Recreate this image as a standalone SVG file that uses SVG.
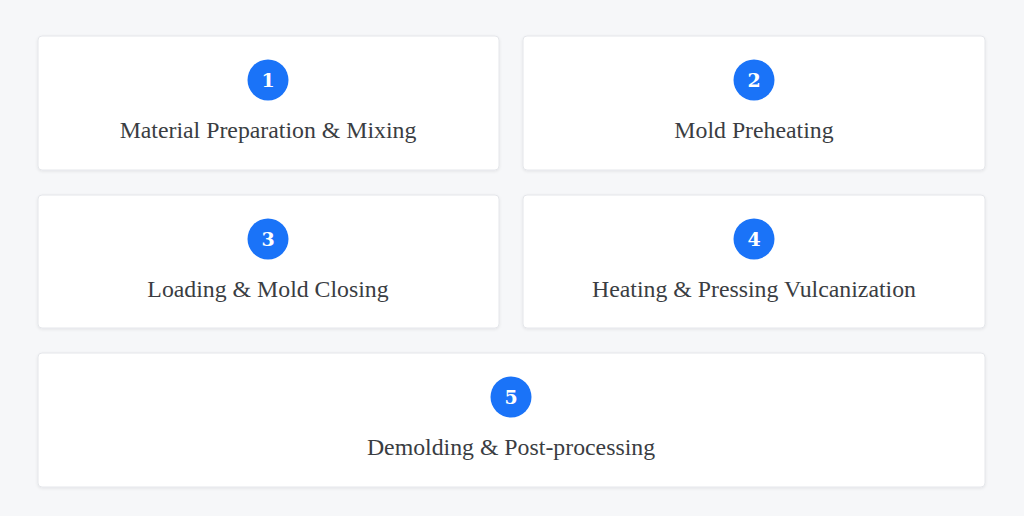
<svg xmlns="http://www.w3.org/2000/svg" width="1024" height="516" viewBox="0 0 1024 516">
<style>
.card{fill:#ffffff;stroke:#e4e6ea;stroke-width:1}
.badge{fill:#1a73f8}
.num{font-family:"DejaVu Serif","Liberation Serif",serif;font-size:19px;font-weight:bold;fill:#ffffff;text-anchor:middle}
.lbl{font-family:"Liberation Serif","DejaVu Serif",serif;font-size:23.8px;fill:#3a3d42;text-anchor:middle}
</style>
<defs>
<filter id="sh" x="-5%" y="-10%" width="110%" height="125%">
<feDropShadow dx="0" dy="1" stdDeviation="1.5" flood-color="#000" flood-opacity="0.08"/>
</filter>
</defs>
<rect width="1024" height="516" fill="#f6f7f9"/>
<g id="connectors"></g>
<g id="node1">
<rect class="card" x="38" y="36" width="461" height="134" rx="4" filter="url(#sh)"/>
<circle class="badge" cx="268" cy="80" r="20.5"/>
<text class="num" x="268" y="87">1</text>
<text class="lbl" x="268" y="138">Material Preparation &amp; Mixing</text>
</g>
<g id="node2">
<rect class="card" x="523" y="36" width="462" height="134" rx="4" filter="url(#sh)"/>
<circle class="badge" cx="754" cy="80" r="20.5"/>
<text class="num" x="754" y="87">2</text>
<text class="lbl" x="754" y="138">Mold Preheating</text>
</g>
<g id="node3">
<rect class="card" x="38" y="195" width="461" height="133" rx="4" filter="url(#sh)"/>
<circle class="badge" cx="268" cy="239" r="20.5"/>
<text class="num" x="268" y="246">3</text>
<text class="lbl" x="268" y="297">Loading &amp; Mold Closing</text>
</g>
<g id="node4">
<rect class="card" x="523" y="195" width="462" height="133" rx="4" filter="url(#sh)"/>
<circle class="badge" cx="754" cy="239" r="20.5"/>
<text class="num" x="754" y="246">4</text>
<text class="lbl" x="754" y="297">Heating &amp; Pressing Vulcanization</text>
</g>
<g id="node5">
<rect class="card" x="38" y="353" width="947" height="134" rx="4" filter="url(#sh)"/>
<circle class="badge" cx="511" cy="397" r="20.5"/>
<text class="num" x="511" y="404">5</text>
<text class="lbl" x="511" y="455">Demolding &amp; Post-processing</text>
</g>
</svg>
